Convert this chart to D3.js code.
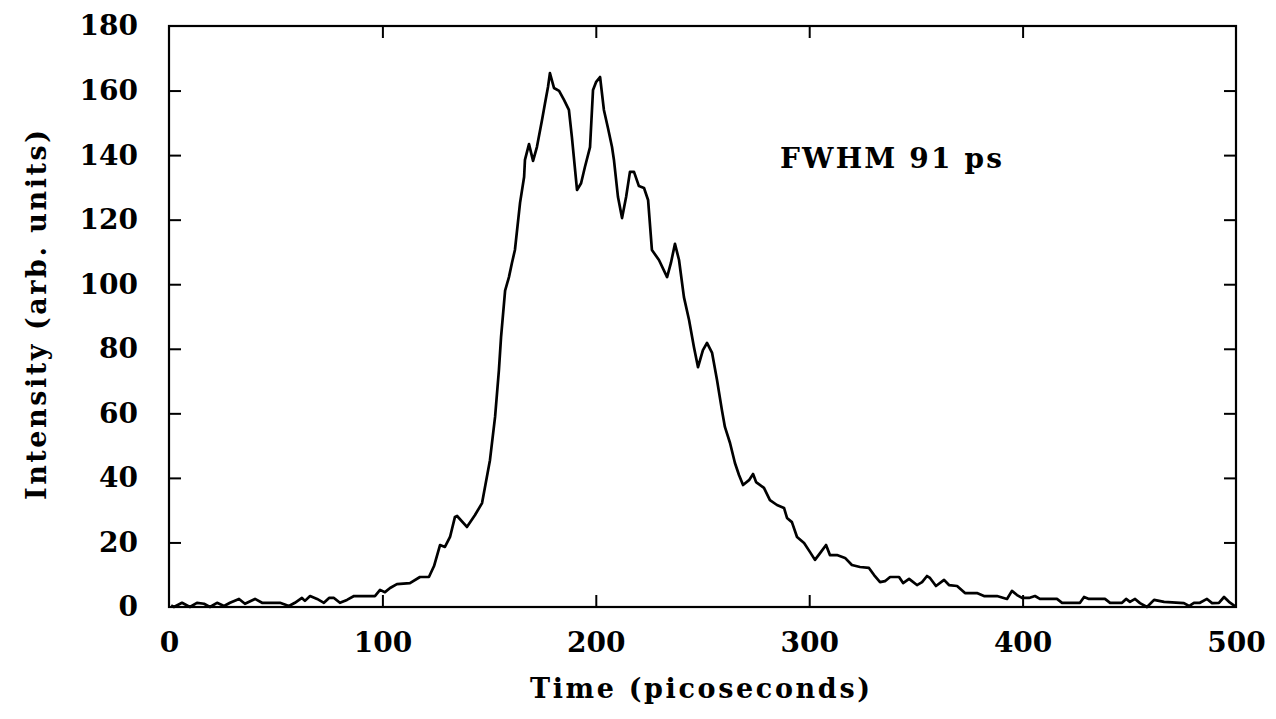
<!DOCTYPE html>
<html>
<head>
<meta charset="utf-8">
<script src="https://cdn.jsdelivr.net/npm/d3@7"></script>
<style>
  body { margin: 0; background: #fff; }
  text { font-family: "DejaVu Serif", serif; font-weight: bold; fill: #000; }
</style>
</head>
<body>
<div id="chart"></div>
<script>
//////////////////////////
// Data //
//////////////////////////

// time in picoseconds
var times = [1, 2.3, 6.1, 9.8, 13.1, 16.4, 19.2, 22.5, 25.8, 28.6,
  32.8, 35.6, 40.3, 43.6, 52, 56.2, 59, 62.3, 63.7, 66.1,
  69.4, 72.6, 75, 77.3, 80.1, 83.4, 86.7, 96.5, 98.9, 101.2,
  103.6, 106.8, 112.9, 117.6, 121.8, 124.2, 127, 129.3, 131.7, 134,
  135, 139.6, 143.4, 146.7, 150.4, 152.8, 154.6, 155.6, 157.5, 159.3,
  160.7, 162.1, 164.5, 166.4, 166.8, 168.7, 170.6, 172.4, 174.8, 176.2,
  177.6, 178.5, 180.4, 182.8, 185.1, 187.4, 188.8, 191.2, 193.1, 194.9,
  197.3, 198.7, 200.1, 202, 203.8, 205.7, 207.6, 208.5, 210.4, 212.3,
  214.2, 216, 217.9, 220.2, 222.6, 224.5, 226.3, 229.6, 233.4, 235.2,
  237.1, 239, 241.3,
  243.7, 246, 247.9, 250.2, 252.1, 254.5, 256.8, 259.1, 260.5, 262.9,
  265.2, 267.1, 269, 271.8, 273.7, 275.1, 278.8, 281.6, 284.9, 288.2,
  289.6, 291.9, 294.3, 297.6, 300.4, 302.7, 305.1, 307.9, 309.7, 313,
  316.8, 320, 323.8, 328, 330.4, 333.2, 335.5, 337.9, 342.1, 344,
  346.8, 350.5, 352.9, 355.2, 356.6, 359.4, 363.2, 365.5, 369.3, 373,
  378.6, 381.9, 388, 392.7, 395,
  397.4, 399.7, 403, 405.8, 408.1, 416.1, 418.5, 426.9, 428.8, 431.1,
  438.6, 441, 446.6, 448.5, 450.3, 452.7, 455, 458.3, 461.6, 466.3,
  475.6, 478, 480.3, 483.1, 486.4, 488.8, 492, 494.4, 496.7, 499.5];

// intensity (arb. units)
var intensity = [0.5, 0, 1.3, 0, 1.3, 1.0, 0, 1.3, 0.3, 1.3,
  2.5, 1.0, 2.5, 1.3, 1.3, 0.3, 1.3, 2.8, 1.9, 3.4,
  2.5, 1.3, 2.8, 2.8, 1.3, 2.2, 3.4, 3.4, 5.3, 4.6,
  5.9, 7.1, 7.4, 9.3, 9.3, 12.7, 19.2, 18.6, 21.7, 27.9,
  28.2, 24.8, 28.5, 32.2, 45.5, 58.9, 73.4, 83.6, 98, 102.2,
  106.6, 110.6, 125.2, 133.2, 138.5, 143.4, 138.2, 142.5, 150.9, 156.1,
  161.1, 165.4, 160.8, 159.9, 157.1, 154, 145.6, 129.2, 131.3, 136.3,
  142.5, 160.2, 162.6, 164.2, 154, 148.4, 142.5, 138.5, 127, 120.5,
  127, 134.8, 134.8, 130.4, 129.8, 126.1, 110.6, 107.5, 102.2, 106.6,
  112.5, 107.5, 96,
  88.9, 80.5, 74.3, 79.6, 81.8, 78.7, 70.3, 61, 55.8, 50.8,
  44.6, 40.9, 37.8, 39.3, 41.2, 38.7, 36.9, 33.1, 31.6, 30.7,
  27.6, 26.3, 21.7, 19.8, 17, 14.6, 16.7, 19.2, 16.1, 16.1,
  15.2, 13, 12.4, 12.1, 9.9, 7.7, 8, 9.3, 9.3, 7.4,
  8.7, 6.8, 7.7, 9.6, 9, 6.5, 8.4, 6.8, 6.5, 4.3,
  4.3, 3.4, 3.4, 2.5, 5,
  3.7, 2.8, 2.8, 3.4, 2.5, 2.5, 1.3, 1.3, 3.1, 2.5,
  2.5, 1.3, 1.3, 2.5, 1.6, 2.5, 1.2, 0, 2.2, 1.6,
  1.2, 0.3, 1.3, 1.3, 2.5, 1.2, 1.3, 3.1, 1.6, 0.3];

var xTicks = [0, 100, 200, 300, 400, 500];
var yTicks = [0, 20, 40, 60, 80, 100, 120, 140, 160, 180];

////////////
// Layout //
////////////
var W = 1276, H = 719;
var plotLeft = 169, plotRight = 1236, plotTop = 26, plotBottom = 607;

var xScale = d3.scaleLinear().domain([0, 500]).range([plotLeft, plotRight]);
var yScale = d3.scaleLinear().domain([0, 180]).range([plotBottom, plotTop]);

var svg = d3.select("#chart").append("svg")
    .attr("width", W)
    .attr("height", H);

// frame
svg.append("rect")
    .attr("x", plotLeft)
    .attr("y", plotTop)
    .attr("width", plotRight - plotLeft)
    .attr("height", plotBottom - plotTop)
    .attr("fill", "none")
    .attr("stroke", "#000")
    .attr("stroke-width", 2.2);

// axes: ticks pointing inward, labels only on bottom and left
var tickLen = 12;
var xAxis = d3.axisBottom(xScale).tickValues(xTicks).tickSize(-tickLen).tickPadding(tickLen + 13),
    yAxis = d3.axisLeft(yScale).tickValues(yTicks).tickSize(-tickLen).tickPadding(tickLen + 19),
    xAxisTop = d3.axisTop(xScale).tickValues(xTicks).tickSize(-tickLen).tickFormat(""),
    yAxisRight = d3.axisRight(yScale).tickValues(yTicks).tickSize(-tickLen).tickFormat("");

function styleAxis(g) {
  g.select(".domain").remove();
  g.selectAll(".tick line").attr("stroke", "#000").attr("stroke-width", 2);
  g.selectAll(".tick text")
      .attr("font-family", "DejaVu Serif, serif")
      .attr("font-weight", "bold")
      .attr("font-size", 28)
      .attr("fill", "#000");
}

svg.append("g")
    .attr("transform", "translate(0," + plotBottom + ")")
    .call(xAxis)
    .call(styleAxis);

svg.append("g")
    .attr("transform", "translate(" + plotLeft + ",0)")
    .call(yAxis)
    .call(styleAxis);

svg.append("g")
    .attr("transform", "translate(0," + plotTop + ")")
    .call(xAxisTop)
    .call(styleAxis);

svg.append("g")
    .attr("transform", "translate(" + plotRight + ",0)")
    .call(yAxisRight)
    .call(styleAxis);

// hide the end ticks that sit on the frame
svg.selectAll(".tick line").filter(function(d) {
  return d === 0 || d === 500 || d === 180;
}).remove();

///////////
// Curve //
///////////
var data = times.map(function(t, i) { return {t: t, v: intensity[i]}; });

var line = d3.line()
    .x(function(d) { return xScale(d.t); })
    .y(function(d) { return yScale(d.v); });

svg.append("path")
    .datum(data)
    .attr("d", line)
    .attr("fill", "none")
    .attr("stroke", "#000")
    .attr("stroke-width", 2.7)
    .attr("stroke-linejoin", "round");

////////////
// Labels //
////////////
svg.append("text")
    .attr("x", 700)
    .attr("y", 698)
    .attr("text-anchor", "middle")
    .attr("font-size", 27)
    .attr("textLength", 340)
    .text("Time (picoseconds)");

svg.append("text")
    .attr("transform", "translate(46,315) rotate(-90)")
    .attr("text-anchor", "middle")
    .attr("font-size", 27)
    .attr("textLength", 370)
    .text("Intensity (arb. units)");

svg.append("text")
    .attr("x", 780)
    .attr("y", 168)
    .attr("font-size", 28)
    .attr("textLength", 222)
    .text("FWHM 91 ps");
</script>
</body>
</html>
